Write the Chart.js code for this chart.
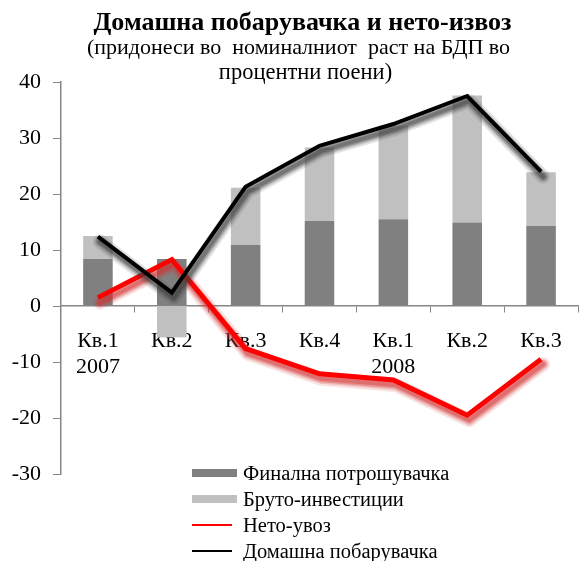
<!DOCTYPE html>
<html>
<head>
<meta charset="utf-8">
<script src="https://cdn.jsdelivr.net/npm/chart.js@4.4.1/dist/chart.umd.min.js"></script>
<style>
  body { margin: 0; background: #fff; }
  .wrap { position: relative; width: 579px; height: 561px; font-family: 'Liberation Serif', 'Times New Roman', serif; }
  .title { position: absolute; left: 0; width: 579px; text-align: center; white-space: pre; color: #000; box-sizing: border-box; }
  .legend { position: absolute; left: 192px; top: 460px; font-size: 20.5px; }
  .legend div { height: 26px; line-height: 26px; display: flex; align-items: center; }
  .legend span.sw { display: inline-block; width: 45px; margin-right: 6px; }
</style>
</head>
<body>
<div class="wrap">
  <canvas id="chart" width="579" height="561"></canvas>
  <div class="title" style="top:7px; font-size:26px; font-weight:bold; padding-left:26px;">Домашна побарувачка и нето-извоз</div>
  <div class="title" style="top:34px; font-size:22px; padding-left:18px;">(придонеси во  номиналниот  раст на БДП во</div>
  <div class="title" style="top:59px; font-size:22.5px; padding-left:32px;">процентни поени)</div>
  <div class="legend">
    <div><span class="sw" style="height:8px;background:#808080"></span>Финална потрошувачка</div>
    <div><span class="sw" style="height:8px;background:#c0c0c0"></span>Бруто-инвестиции</div>
    <div><span class="sw" style="height:2px;background:#ff0000;width:40px;margin-right:11px"></span>Нето-увоз</div>
    <div><span class="sw" style="height:2px;background:#000;width:40px;margin-right:11px"></span>Домашна побарувачка</div>
  </div>
</div>
<script>
const quarters = [['Кв.1', '2007'], 'Кв.2', 'Кв.3', 'Кв.4', ['Кв.1', '2008'], 'Кв.2', 'Кв.3'];
const finalConsumption = [8.4, 8.4, 10.9, 15.2, 15.5, 14.9, 14.3];
const grossInvestment = [4.1, -5.6, 10.2, 13.1, 16.7, 22.7, 9.6];
const netImports = [1.5, 8.3, -7.6, -12.1, -13.2, -19.5, -9.5];
const domesticDemand = [12.4, 2.4, 21.3, 28.6, 32.5, 37.5, 24.0];
const yTicks = [-30, -20, -10, 0, 10, 20, 30, 40];

// soft Excel-like shadow: a few wide faint strokes under the line, following the line's own points
const shadowPlugin = {
  id: 'lineShadow',
  beforeDatasetDraw(chart, args) {
    const ds = chart.data.datasets[args.index];
    if (!ds.shadowRGB) return;
    const pts = args.meta.data;
    const ctx = chart.ctx;
    ctx.save();
    ctx.lineJoin = 'round';
    ctx.lineCap = 'round';
    const layers = [[14, 0.14], [10, 0.22], [7, 0.3], [4, 0.38]];
    layers.forEach(([w, a]) => {
      ctx.beginPath();
      pts.forEach((p, i) => {
        if (i === 0) ctx.moveTo(p.x + 2, p.y + 5);
        else ctx.lineTo(p.x + 2, p.y + 5);
      });
      ctx.lineWidth = w;
      ctx.strokeStyle = 'rgba(' + ds.shadowRGB + ',' + a + ')';
      ctx.stroke();
    });
    ctx.restore();
  }
};

const axisColor = '#868686';
const font = { family: "'Liberation Serif', 'Times New Roman', serif", size: 22 };

new Chart(document.getElementById('chart'), {
  type: 'bar',
  data: {
    labels: quarters,
    datasets: [
      {
        label: 'Финална потрошувачка',
        data: finalConsumption,
        backgroundColor: '#808080',
        stack: 'bars',
        order: 3,
        barPercentage: 0.4,
        categoryPercentage: 1
      },
      {
        label: 'Бруто-инвестиции',
        data: grossInvestment,
        backgroundColor: '#c0c0c0',
        stack: 'bars',
        order: 3,
        barPercentage: 0.4,
        categoryPercentage: 1
      },
      {
        type: 'line',
        label: 'Нето-увоз',
        data: netImports,
        borderColor: '#ff0000',
        borderWidth: 5,
        pointRadius: 0,
        tension: 0,
        stack: 'red',
        order: 2,
        shadowRGB: '210, 50, 50'
      },
      {
        type: 'line',
        label: 'Домашна побарувачка',
        data: domesticDemand,
        borderColor: '#000000',
        borderWidth: 4,
        pointRadius: 0,
        tension: 0,
        stack: 'black',
        order: 1,
        shadowRGB: '60, 60, 60'
      }
    ]
  },
  options: {
    responsive: false,
    animation: false,
    layout: { padding: { top: 82, bottom: 87, left: 0, right: 1 } },
    plugins: {
      legend: { display: false },
      tooltip: { enabled: false }
    },
    scales: {
      x: {
        stacked: true,
        position: { y: 0 },
        grid: {
          drawOnChartArea: false,
          drawTicks: true,
          tickLength: 6,
          color: axisColor,
          offset: true
        },
        border: { color: axisColor, width: 1.5 },
        ticks: { color: '#000', font: font, padding: 16, maxRotation: 0, autoSkip: false }
      },
      y: {
        stacked: true,
        min: -30,
        max: 40,
        afterBuildTicks(scale) {
          scale.ticks = yTicks.map(v => ({ value: v }));
        },
        afterFit(scale) {
          scale.width = 61;
        },
        grid: {
          drawOnChartArea: false,
          drawTicks: true,
          tickLength: 8,
          color: axisColor
        },
        border: { color: axisColor, width: 1.5 },
        ticks: { color: '#000', font: font, padding: 12 }
      }
    }
  },
  plugins: [shadowPlugin]
});
</script>
</body>
</html>
